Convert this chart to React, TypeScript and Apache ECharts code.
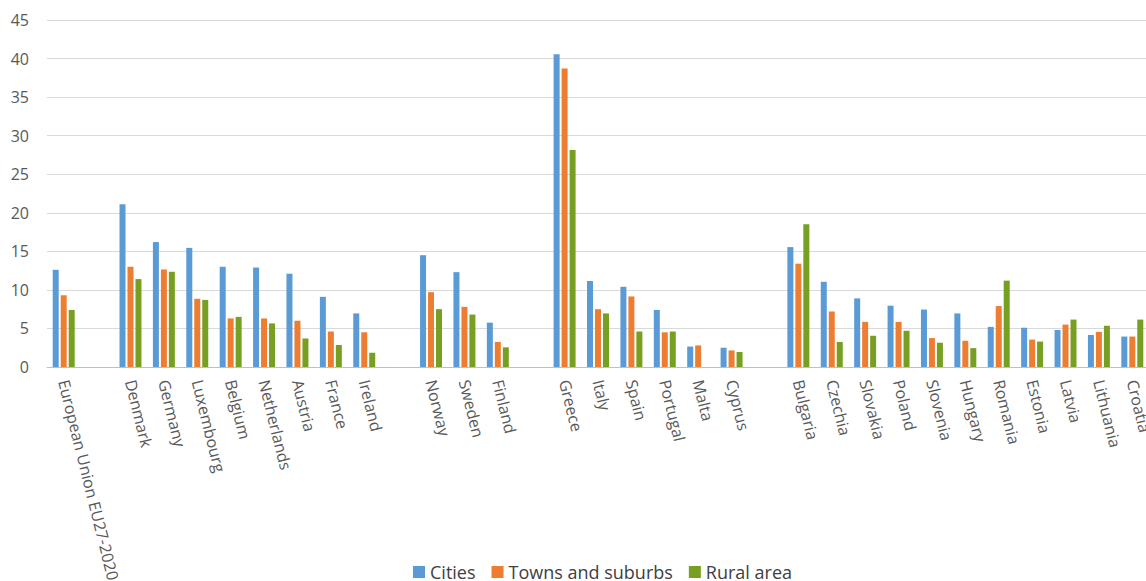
import React, { useEffect, useRef } from "react";
import * as echarts from "echarts";

const categories = [
  "European Union EU27-2020", "",
  "Denmark", "Germany", "Luxembourg", "Belgium", "Netherlands", "Austria", "France", "Ireland", "",
  "Norway", "Sweden", "Finland", "",
  "Greece", "Italy", "Spain", "Portugal", "Malta", "Cyprus", "",
  "Bulgaria", "Czechia", "Slovakia", "Poland", "Slovenia", "Hungary", "Romania", "Estonia", "Latvia", "Lithuania", "Croatia",
];

const cities = [
  12.6, null,
  21.1, 16.2, 15.45, 13.0, 12.9, 12.1, 9.1, 6.95, null,
  14.5, 12.3, 5.75, null,
  40.55, 11.15, 10.4, 7.4, 2.65, 2.5, null,
  15.55, 11.05, 8.9, 7.95, 7.45, 6.95, 5.2, 5.1, 4.8, 4.15, 3.95,
];

const towns = [
  9.3, null,
  13.0, 12.65, 8.85, 6.3, 6.3, 6.0, 4.6, 4.5, null,
  9.7, 7.8, 3.25, null,
  38.7, 7.5, 9.15, 4.5, 2.8, 2.15, null,
  13.4, 7.2, 5.85, 5.85, 3.75, 3.4, 7.9, 3.55, 5.5, 4.55, 3.95,
];

const rural = [
  7.4, null,
  11.4, 12.35, 8.7, 6.5, 5.65, 3.7, 2.85, 1.85, null,
  7.5, 6.8, 2.55, null,
  28.15, 6.95, 4.6, 4.6, null, 1.95, null,
  18.5, 3.25, 4.05, 4.7, 3.15, 2.45, 11.2, 3.3, 6.15, 5.35, 6.15,
];

const seriesNames = ["Cities", "Towns and suburbs", "Rural area"];
const colors = ["#5B9BD5", "#ED7D31", "#779F22"];

const CHART_W = 1200;

export default function App() {
  const ref = useRef<HTMLDivElement>(null);
  useEffect(() => {
    if (!ref.current) return;
    const chart = echarts.init(ref.current, null, { renderer: "svg" });
    const font = "'Open Sans', sans-serif";
    const mk = (name: string, data: (number | null)[], color: string) => ({
      name,
      type: "bar",
      data,
      barWidth: 6,
      barGap: "33%",
      itemStyle: { color },
    });
    chart.setOption({
      animation: false,
      backgroundColor: "#ffffff",
      color: colors,
      legend: {
        left: 408,
        top: 558,
        itemWidth: 12,
        itemHeight: 12,
        itemGap: 16,
        icon: "rect",
        textStyle: { fontFamily: font, fontSize: 18, color: "#404040" },
        data: seriesNames,
      },
      grid: {
        left: 47,
        right: CHART_W - 1149,
        top: 20,
        bottom: 214,
        containLabel: false,
        outerBoundsMode: "none",
      },
      xAxis: {
        type: "category",
        data: categories,
        axisLine: { lineStyle: { color: "#BFBFBF", width: 1 } },
        axisTick: { show: false },
        axisLabel: {
          interval: 0,
          rotate: -76,
          margin: 13,
          fontFamily: font,
          fontSize: 16,
          color: "#595959",
        },
      },
      yAxis: {
        type: "value",
        min: 0,
        max: 45,
        interval: 5,
        axisLine: { show: false },
        axisTick: { show: false },
        axisLabel: { fontFamily: font, fontSize: 16, color: "#595959", margin: 18 },
        splitLine: { lineStyle: { color: "#D9D9D9", width: 1 } },
      },
      series: [
        mk(seriesNames[0], cities, colors[0]),
        mk(seriesNames[1], towns, colors[1]),
        mk(seriesNames[2], rural, colors[2]),
      ],
    });
    return () => chart.dispose();
  }, []);
  return (
    <div style={{ position: "fixed", left: 0, top: 0, width: 1146, height: 581, overflow: "hidden", background: "#fff" }}>
      <div ref={ref} style={{ width: CHART_W, height: 581 }} />
    </div>
  );
}
